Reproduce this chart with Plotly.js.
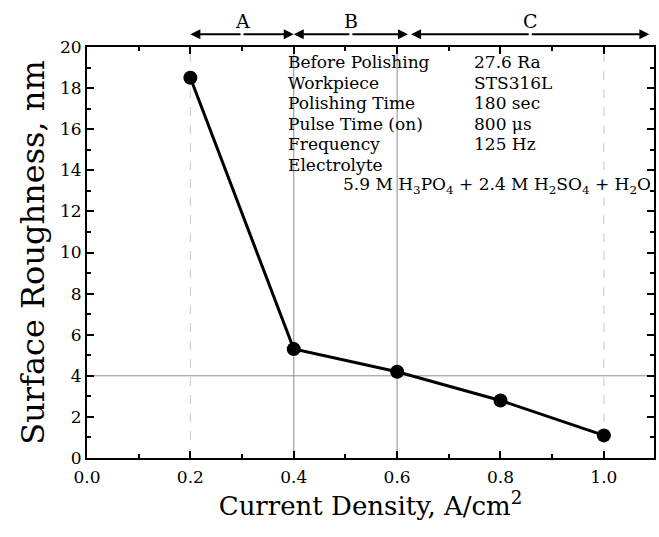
<!DOCTYPE html>
<html>
<head>
<meta charset="utf-8">
<script src="https://cdn.plot.ly/plotly-3.0.1.min.js"></script>
<style>html,body{margin:0;padding:0;background:#fff;}#chart{width:659px;height:537px;}</style>
</head>
<body>
<div id="chart"></div>
<script>
// Data
const currentDensity = [0.2, 0.4, 0.6, 0.8, 1.0];
const roughness = [18.5, 5.3, 4.2, 2.8, 1.1];
const regionNames = ['A', 'B', 'C'];
const regionStart = [0.2, 0.4, 0.627];
const regionEnd = [0.4, 0.621, 1.088];
const infoLabels = ['Before Polishing', 'Workpiece', 'Polishing Time', 'Pulse Time (on)', 'Frequency', 'Electrolyte'];
const infoValues = ['27.6 Ra', 'STS316L', '180 sec', '800 \u03bcs', '125 Hz', ''];
const electrolyte = '5.9 M H<sub>3</sub>PO<sub>4</sub> + 2.4 M H<sub>2</sub>SO<sub>4</sub> + H<sub>2</sub>O';
const solidGuidesX = [0.4, 0.6];
const dashedGuidesX = [0.2, 1.0];
const guideY = [4];

const font = 'DejaVu Serif';

const shapes = [];
solidGuidesX.forEach(x => shapes.push({type:'line', xref:'x', yref:'paper', x0:x, x1:x, y0:0, y1:1, line:{color:'#8c8c8c', width:1}, layer:'below'}));
dashedGuidesX.forEach(x => shapes.push({type:'line', xref:'x', yref:'paper', x0:x, x1:x, y0:0, y1:1, line:{color:'#c8c8c8', width:1, dash:'dash'}, layer:'below'}));
guideY.forEach(y => shapes.push({type:'line', xref:'paper', yref:'y', x0:0, x1:1, y0:y, y1:y, line:{color:'#8c8c8c', width:1}, layer:'below'}));

const annotations = [];
const arrowY = 1.031;
regionNames.forEach((name, i) => {
  const a = regionStart[i], b = regionEnd[i];
  annotations.push({x:b, y:arrowY, xref:'x', yref:'paper', ax:(a+b)/2, ay:0, axref:'x', ayref:'pixel', showarrow:true, arrowhead:2, arrowsize:1, arrowwidth:2, arrowcolor:'#000', text:''});
  annotations.push({x:a, y:arrowY, xref:'x', yref:'paper', ax:(a+b)/2, ay:0, axref:'x', ayref:'pixel', showarrow:true, arrowhead:2, arrowsize:1, arrowwidth:2, arrowcolor:'#000', text:''});
  annotations.push({x:(a+b)/2, y:1.064, xref:'x', yref:'paper', yanchor:'middle', xanchor:'center', text:name, showarrow:false, font:{family:font, size:19, color:'#000'}});
});
infoLabels.forEach((lab, i) => {
  const y = 19.27 - i*1.0;
  annotations.push({x:0.385, y:y, xref:'x', yref:'y', xanchor:'left', yanchor:'middle', text:lab, showarrow:false, font:{family:font, size:17, color:'#000'}});
  if (infoValues[i]) annotations.push({x:0.745, y:y, xref:'x', yref:'y', xanchor:'left', yanchor:'middle', text:infoValues[i], showarrow:false, font:{family:font, size:17, color:'#000'}});
});
annotations.push({x:1.095, y:13.27, xref:'x', yref:'y', xanchor:'right', yanchor:'middle', text:electrolyte, showarrow:false, font:{family:font, size:17, color:'#000'}});

const trace = {
  x: currentDensity, y: roughness, type:'scatter', mode:'lines+markers',
  line:{color:'#000', width:3}, marker:{color:'#000', size:14}, cliponaxis:false
};

const axisCommon = {
  showline:true, linecolor:'#000', linewidth:2, mirror:'ticks', ticks:'inside', ticklen:7, tickwidth:2, tickcolor:'#000',
  showgrid:false, zeroline:false, tickfont:{family:font, size:17, color:'#000'}
};

const layout = {
  width:659, height:537,
  margin:{l:87, r:5, t:47, b:79},
  paper_bgcolor:'#fff', plot_bgcolor:'#fff',
  showlegend:false,
  xaxis: Object.assign({}, axisCommon, {
    range:[0, 1.097], tick0:0, dtick:0.2, tickformat:'.1f', ticklabelstandoff:3,
    minor:{dtick:0.1, ticks:'inside', ticklen:4, tickwidth:2, tickcolor:'#000'},
    title:{text:'Current Density, A/cm<sup>2</sup>', font:{family:font, size:26, color:'#000'}, standoff:0}
  }),
  yaxis: Object.assign({}, axisCommon, {
    range:[0, 20], tick0:0, dtick:2,
    minor:{dtick:1, ticks:'inside', ticklen:4, tickwidth:2, tickcolor:'#000'},
    title:{text:'Surface Roughness, nm', font:{family:font, size:32, color:'#000'}, standoff:6}
  }),
  shapes: shapes,
  annotations: annotations
};

Plotly.newPlot('chart', [trace], layout, {displayModeBar:false, staticPlot:true});
</script>
</body>
</html>
